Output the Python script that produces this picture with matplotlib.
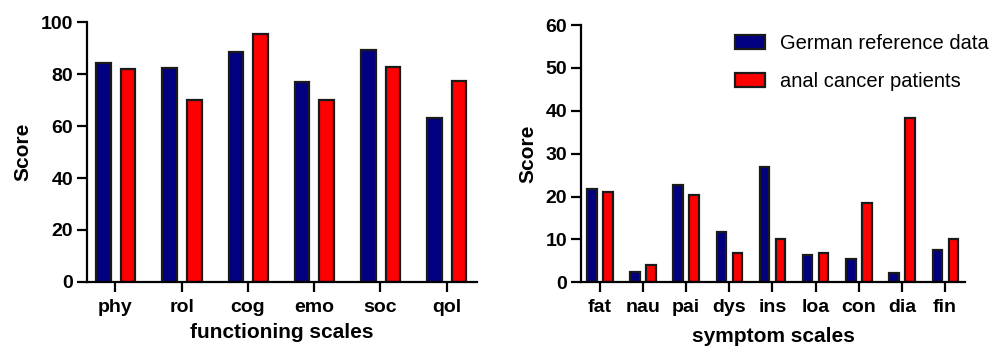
import matplotlib.pyplot as plt
import numpy as np

plt.rcParams['font.family'] = ['Liberation Sans', 'DejaVu Sans']

func_labels = ['phy', 'rol', 'cog', 'emo', 'soc', 'qol']
func_german = [84.1, 82.3, 88.3, 76.8, 89.3, 63.1]
func_anal = [81.8, 70.1, 95.4, 70.1, 82.6, 77.3]

sym_labels = ['fat', 'nau', 'pai', 'dys', 'ins', 'loa', 'con', 'dia', 'fin']
sym_german = [21.7, 2.5, 22.7, 11.8, 26.8, 6.4, 5.4, 2.1, 7.5]
sym_anal = [21.0, 4.0, 20.3, 6.9, 10.2, 6.9, 18.4, 38.3, 10.2]

blue = '#000080'
red = '#ff0000'


def draw(ax, labels, german, anal, ymax, ystep, xlabel, xpad):
    x = np.arange(len(labels))
    ax.bar(x - 0.18, german, width=0.22, color=blue, edgecolor='#1a1a1a',
           linewidth=1.6, label='German reference data', zorder=2)
    ax.bar(x + 0.19, anal, width=0.22, color=red, edgecolor='#1a1a1a',
           linewidth=1.6, label='anal cancer patients', zorder=2)
    ax.set_xlim(-0.43, len(labels) - 0.54)
    ax.set_ylim(0, ymax)
    ax.set_yticks(np.arange(0, ymax + 1, ystep))
    ax.set_xticks(x)
    ax.set_xticklabels(labels)
    for s in ['top', 'right']:
        ax.spines[s].set_visible(False)
    for s in ['left', 'bottom']:
        ax.spines[s].set_linewidth(1.6)
    ax.tick_params(axis='both', width=1.6, length=7, labelsize=14)
    ax.tick_params(axis='y', pad=3)
    ax.tick_params(axis='x', pad=5)
    for t in ax.get_xticklabels() + ax.get_yticklabels():
        t.set_fontweight('bold')
    ax.set_ylabel('Score', fontsize=15, fontweight='bold', labelpad=6)
    ax.set_xlabel(xlabel, fontsize=15, fontweight='bold', labelpad=xpad)


fig = plt.figure(figsize=(10.01, 3.48), dpi=100)
ax1 = fig.add_axes([0.0869, 0.1897, 0.3896, 0.747])
ax2 = fig.add_axes([0.5804, 0.1888, 0.3836, 0.739])

draw(ax1, func_labels, func_german, func_anal, 100, 20, 'functioning scales', 5)
draw(ax2, sym_labels, sym_german, sym_anal, 60, 10, 'symptom scales', 8)

ax2.legend(loc='upper left', bbox_to_anchor=(0.40, 0.965), frameon=False,
           fontsize=14.5, handlelength=1.5, handleheight=0.7,
           handletextpad=0.75, labelspacing=0.95, borderpad=0,
           borderaxespad=0)

fig.savefig('out.png', dpi=100)
